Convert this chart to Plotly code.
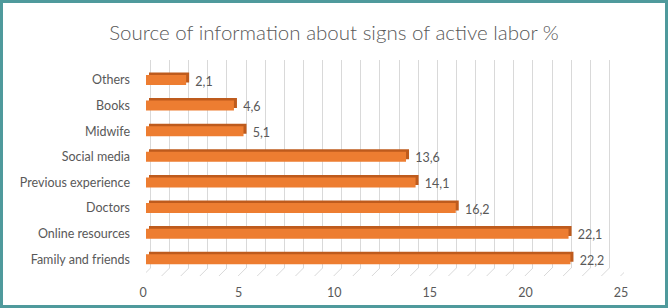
import plotly.graph_objects as go

categories = ["Family and friends", "Online resources", "Doctors", "Previous experience",
              "Social media", "Midwife", "Books", "Others"]
values = [22.2, 22.1, 16.2, 14.1, 13.6, 5.1, 4.6, 2.1]
x_ticks = [0, 5, 10, 15, 20, 25]
title_text = "Source of information about signs of active labor %"

W, H = 668, 308
ML, MR, MT, MB = 146, 44, 60, 40
PW, PH = W - ML - MR, H - MT - MB
XMAX = 25
ppu = PW / XMAX  # pixels per unit

FRONT = "#ED7D31"
TOP = "#BE5B1D"
GRID = "#D9D9D9"
TXT = "#595959"
FONT = "Lato"

depth_x = 3 / ppu          # 3D side offset in x units
front_w = 0.39
top_h = 0.1

fig = go.Figure()

# back (top/end) face of the 3D bars
fig.add_trace(go.Bar(
    y=categories, x=values, base=depth_x, orientation="h",
    width=front_w, offset=-front_w / 2 + top_h,
    marker=dict(color=TOP, line=dict(width=0)),
    hoverinfo="skip", showlegend=False))

# front face
fig.add_trace(go.Bar(
    y=categories, x=values, orientation="h",
    width=front_w, offset=-front_w / 2,
    marker=dict(color=FRONT, line=dict(width=0)),
    hoverinfo="skip", showlegend=False))

# data labels
fig.add_trace(go.Bar(
    y=categories, x=values, base=depth_x, orientation="h",
    width=front_w, offset=-front_w / 2 - 0.04,
    marker=dict(color="rgba(0,0,0,0)", line=dict(width=0)),
    texttemplate=" %{x:.1f}", textposition="outside", cliponaxis=False,
    constraintext="none",
    textfont=dict(family=FONT, size=12.5, color=TXT),
    hoverinfo="skip", showlegend=False))

# back-plane gridline offset (in x units)
back_off = 4.5 / ppu
front_off = -3.5 / ppu

shapes = []
# floor diagonals
floor_front = -8 / PH
for k in range(0, XMAX + 1):
    shapes.append(dict(type="line", xref="x", yref="paper",
                       x0=k + front_off, y0=floor_front, x1=k + back_off, y1=0,
                       line=dict(color=GRID, width=1), layer="below"))
# outer border
bw = 3
shapes.append(dict(type="rect", xref="paper", yref="paper",
                   x0=(-ML + bw / 2) / PW, x1=(PW + MR - bw / 2) / PW,
                   y0=(-MB + bw / 2) / PH, y1=(PH + MT - bw / 2) / PH,
                   line=dict(color="#4F9A9C", width=bw)))

fig.update_layout(
    width=W, height=H,
    margin=dict(l=ML, r=MR, t=MT, b=MB, pad=0, autoexpand=False),
    paper_bgcolor="white", plot_bgcolor="white",
    barmode="overlay",
    separators=",.",
    title=dict(text=title_text, x=0.5, xref="container", xanchor="center",
               y=1 - 33 / H, yref="container", yanchor="middle",
               font=dict(family=FONT, size=20.5, color=TXT, weight=300)),
    xaxis=dict(range=[0, XMAX], tickvals=x_ticks, showgrid=False, zeroline=False,
               showline=False, ticks="outside", ticklen=13, tickcolor="rgba(0,0,0,0)",
               ticklabelshift=-3, automargin=False,
               tickfont=dict(family=FONT, size=12.5, color=TXT), fixedrange=True),
    xaxis2=dict(range=[-back_off, XMAX - back_off], overlaying="x", side="bottom",
                dtick=1, tick0=0, showgrid=True, gridcolor=GRID, gridwidth=1,
                zeroline=False, showline=False, showticklabels=False, ticks="",
                automargin=False),
    yaxis=dict(categoryorder="array", categoryarray=categories,
               range=[-0.34, 7.78], showgrid=False, zeroline=False, showline=False,
               ticks="", ticklabelstandoff=15, automargin=False,
               tickfont=dict(family=FONT, size=12.5, color=TXT)),
    shapes=shapes,
)

# invisible trace to activate xaxis2 grid
fig.add_trace(go.Scatter(x=[None], y=[None], xaxis="x2", yaxis="y",
                         showlegend=False, hoverinfo="skip"))

fig.write_html("out.html")
